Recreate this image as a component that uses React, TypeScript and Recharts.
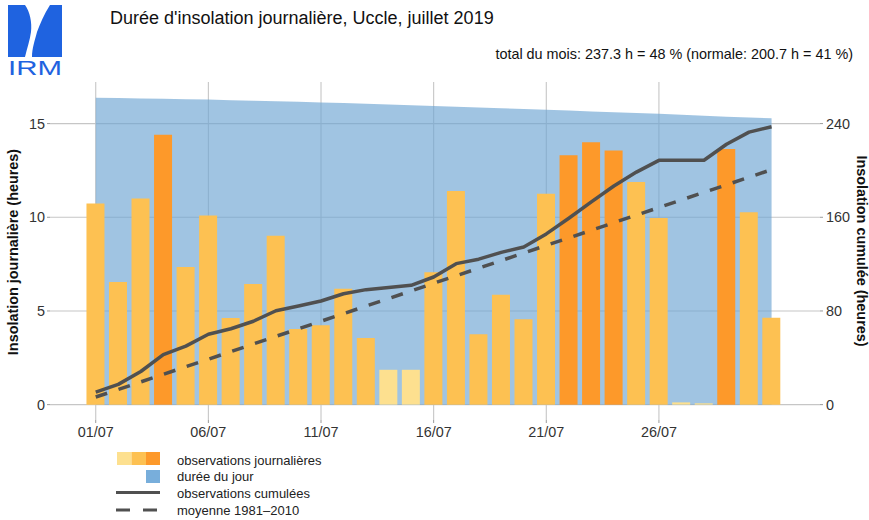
import React from 'react';
import { ComposedChart, Area, Bar, Line, XAxis, YAxis, CartesianGrid, Cell } from 'recharts';

const days = [1, 2, 3, 4, 5, 6, 7, 8, 9, 10, 11, 12, 13, 14, 15, 16, 17, 18, 19, 20, 21, 22, 23, 24, 25, 26, 27, 28, 29, 30, 31];
const dailySunshine = [10.73, 6.54, 11.0, 14.41, 7.34, 10.1, 4.63, 6.44, 9.01, 4.04, 4.24, 6.19, 3.55, 1.86, 1.86, 7.06, 11.4, 3.76, 5.87, 4.56, 11.25, 13.31, 14.0, 13.56, 11.88, 9.96, 0.12, 0.07, 13.65, 10.27, 4.64];
const sunshineClass = [1, 1, 1, 2, 1, 1, 1, 1, 1, 1, 1, 1, 1, 0, 0, 1, 1, 1, 1, 1, 1, 2, 2, 2, 1, 1, 0, 0, 2, 1, 1];
const dayLength = [16.38, 16.36, 16.34, 16.32, 16.3, 16.28, 16.25, 16.22, 16.19, 16.16, 16.13, 16.1, 16.06, 16.02, 15.98, 15.94, 15.9, 15.86, 15.82, 15.78, 15.74, 15.7, 15.65, 15.61, 15.56, 15.52, 15.47, 15.42, 15.37, 15.33, 15.28];
const cumulObserved = [10.7, 17.3, 28.3, 42.7, 50.0, 60.1, 64.8, 71.2, 80.2, 84.2, 88.5, 94.7, 98.2, 100.1, 101.9, 109.0, 120.4, 124.2, 130.0, 134.6, 145.8, 159.2, 173.2, 186.7, 198.6, 208.6, 208.7, 208.7, 222.4, 232.7, 237.3];
const cumulNormal = [6.5, 12.9, 19.4, 25.9, 32.4, 38.8, 45.3, 51.8, 58.3, 64.7, 71.2, 77.7, 84.2, 90.6, 97.1, 103.6, 110.1, 116.5, 123.0, 129.5, 136.0, 142.4, 148.9, 155.4, 161.9, 168.3, 174.8, 181.3, 187.7, 194.2, 200.7];
const xTicks = [1, 6, 11, 16, 21, 26];
const xTickLabels = ['01/07', '06/07', '11/07', '16/07', '21/07', '26/07'];
const leftTicks = [0, 5, 10, 15];
const rightTicks = [0, 80, 160, 240];
const classColors = ['#FDE08F', '#FDC152', '#FD992A'];

const title = "Durée d'insolation journalière, Uccle, juillet 2019";
const subtitle = 'total du mois: 237.3 h = 48 % (normale: 200.7 h = 41 %)';
const leftTitle = 'Insolation journalière (heures)';
const rightTitle = 'Insolation cumulée (heures)';
const legendLabels = ['observations journalières', 'durée du jour', 'observations cumulées', 'moyenne 1981–2010'];

const data = days.map((d, i) => ({
  day: d,
  sun: dailySunshine[i],
  cls: sunshineClass[i],
  daylen: dayLength[i],
  cum: cumulObserved[i],
  norm: cumulNormal[i],
}));

const FONT = "'Liberation Sans', Arial, Helvetica, sans-serif";
const AREA = '#6DA4D2';
const LEGEND_BLUE = '#78AEDB';
const LINE = '#505050';
const GRID = '#c6c6c6';
const TICK = '#9a9a9a';
const TXT = '#333333';

export default function App() {
  return (
    <div style={{ position: 'absolute', left: 0, top: 0, width: 869, height: 520, fontFamily: FONT, background: '#fff' }}>
      <ComposedChart
        width={869}
        height={520}
        data={data}
        margin={{ top: 82, right: 0, bottom: 70, left: 0 }}
        style={{ fontFamily: FONT }}
      >
        <CartesianGrid
          yAxisId="left"
          stroke={GRID}
          strokeWidth={1.1}
          horizontalValues={leftTicks}
          verticalValues={xTicks}
        />
        <XAxis
          dataKey="day"
          type="number"
          domain={[-1.03, 33.15]}
          allowDataOverflow
          ticks={xTicks}
          interval={0}
          tickFormatter={(v: number) => xTickLabels[xTicks.indexOf(v)]}
          axisLine={false}
          tickLine={{ stroke: TICK }}
          tickSize={3}
          tickMargin={4}
          height={30}
          tick={{ fill: TXT, fontSize: 14.4 }}
        />
        <YAxis
          yAxisId="left"
          type="number"
          domain={[-0.82, 17.22]}
          allowDataOverflow
          ticks={leftTicks}
          interval={0}
          width={50}
          axisLine={false}
          tickLine={{ stroke: TICK }}
          tickSize={3}
          tickMargin={2}
          tick={{ fill: TXT, fontSize: 14.4 }}
        />
        <YAxis
          yAxisId="right"
          orientation="right"
          type="number"
          domain={[-13.12, 275.52]}
          allowDataOverflow
          ticks={rightTicks}
          interval={0}
          width={49}
          axisLine={false}
          tickLine={{ stroke: TICK }}
          tickSize={3}
          tickMargin={3}
          tick={{ fill: TXT, fontSize: 14.4 }}
        />
        <Area
          yAxisId="left"
          dataKey="daylen"
          type="linear"
          baseValue={0}
          fill={AREA}
          fillOpacity={0.65}
          stroke="none"
          isAnimationActive={false}
        />
        <Bar yAxisId="left" dataKey="sun" barSize={18} isAnimationActive={false}>
          {data.map((d, i) => (
            <Cell key={i} fill={classColors[d.cls]} />
          ))}
        </Bar>
        <Line
          yAxisId="right"
          dataKey="norm"
          type="linear"
          stroke={LINE}
          strokeWidth={3.5}
          strokeDasharray="12 12"
          dot={false}
          activeDot={false}
          isAnimationActive={false}
        />
        <Line
          yAxisId="right"
          dataKey="cum"
          type="linear"
          stroke={LINE}
          strokeWidth={3.5}
          strokeLinejoin="round"
          dot={false}
          activeDot={false}
          isAnimationActive={false}
        />
      </ComposedChart>
      <svg
        width={869}
        height={520}
        style={{ position: 'absolute', left: 0, top: 0, pointerEvents: 'none', fontFamily: FONT }}
      >
        {/* logo */}
        <rect x={8} y={5} width={54} height={52} fill="#1f63e0" />
        <path
          d="M25,5 L50,5 C44,14 40,24 37,32 C35,40 32,48 32,57 L25,57 C27,48 30,40 31,32 C32,22 30,12 25,5 Z"
          fill="#ffffff"
        />
        <text x={8} y={75} fontSize={21} fill="#1f63e0" textLength={54} lengthAdjust="spacingAndGlyphs">IRM</text>
        {/* titles */}
        <text x={110} y={24} fontSize={18} fill="#111">{title}</text>
        <text x={853} y={58.5} fontSize={14.4} fill="#111" textAnchor="end">{subtitle}</text>
        <text transform="translate(17.5,252) rotate(-90)" fontSize={14.4} fontWeight="bold" fill="#111" textAnchor="middle">{leftTitle}</text>
        <text transform="translate(856.5,251) rotate(90)" fontSize={14.4} fontWeight="bold" fill="#111" textAnchor="middle">{rightTitle}</text>
        {/* legend */}
        <rect x={117} y={452} width={14.5} height={13} fill={classColors[0]} />
        <rect x={131.5} y={452} width={14.5} height={13} fill={classColors[1]} />
        <rect x={146} y={452} width={14} height={13} fill={classColors[2]} />
        <rect x={146} y={470} width={14} height={13} fill={LEGEND_BLUE} />
        <line x1={116} y1={492.5} x2={160} y2={492.5} stroke={LINE} strokeWidth={3} />
        <line x1={116} y1={510} x2={160} y2={510} stroke={LINE} strokeWidth={3} strokeDasharray="14 13" />
        {legendLabels.map((t, i) => (
          <text key={t} x={177} y={464.5 + i * 16.7} fontSize={13} fill="#222">{t}</text>
        ))}
      </svg>
    </div>
  );
}
